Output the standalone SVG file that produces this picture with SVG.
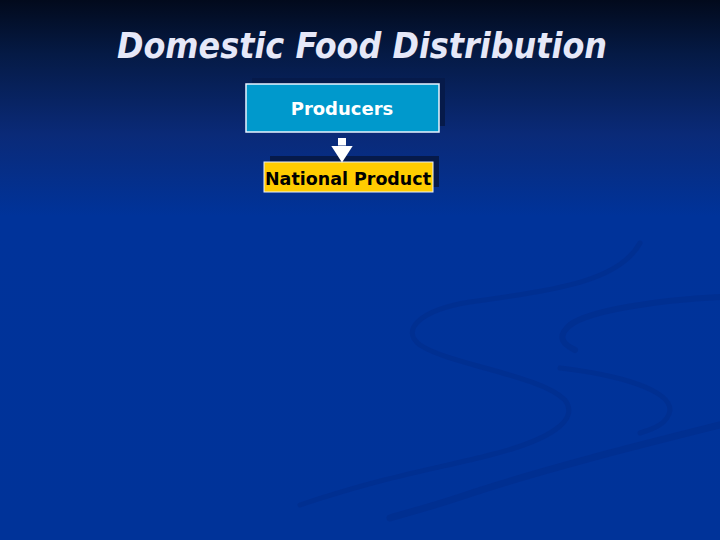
<svg xmlns="http://www.w3.org/2000/svg" width="720" height="540" viewBox="0 0 720 540">
  <defs>
    <linearGradient id="bg" x1="0" y1="0" x2="0" y2="1">
      <stop offset="0" stop-color="#020a1c"/>
      <stop offset="0.1" stop-color="#051a45"/>
      <stop offset="0.25" stop-color="#0a2a78"/>
      <stop offset="0.4" stop-color="#00339a"/>
      <stop offset="1" stop-color="#003399"/>
    </linearGradient>
    <marker id="ah" viewBox="0 0 17 22" refX="0" refY="11" markerWidth="17" markerHeight="22" markerUnits="userSpaceOnUse" orient="auto">
      <path d="M0,0 L17,11 L0,22 Z" fill="#ffffff"/>
    </marker>
    <style>
      .swoosh { fill: none; stroke: #002a88; stroke-linecap: round; opacity: 0.45; }
      .shadow { fill: #061a4a; }
      .lbl { font-family: "DejaVu Sans", Tahoma, Verdana, sans-serif; font-weight: bold; font-size: 18px; text-anchor: middle; }
    </style>
  </defs>

  <rect x="0" y="0" width="720" height="540" fill="url(#bg)"/>

  <!-- decorative swooshes -->
  <g id="decor">
    <path class="swoosh" stroke-width="5" d="M640,243 C620,280 560,290 470,302 C420,310 400,330 420,345 C450,365 540,375 565,400 C580,420 550,440 490,455 C440,468 390,475 300,505"/>
    <path class="swoosh" stroke-width="6" d="M720,297 C660,300 590,310 570,325 C555,338 565,345 575,350"/>
    <path class="swoosh" stroke-width="5" d="M560,368 C620,375 670,390 670,410 C668,425 650,430 640,433"/>
    <path class="swoosh" stroke-width="7" d="M720,425 C640,445 540,470 460,497 C430,507 410,512 390,518"/>
  </g>

  <!-- title -->
  <text id="title" x="362" y="58" font-family="'DejaVu Sans', Verdana, sans-serif" font-weight="bold" font-style="italic" font-size="35" fill="#e6e8f8" text-anchor="middle" textLength="490" lengthAdjust="spacingAndGlyphs">Domestic Food Distribution</text>

  <g id="producers">
    <rect class="shadow" x="252" y="78" width="193" height="48"/>
    <rect x="246" y="84" width="193" height="48" fill="#0099cc" stroke="#e8f4ff" stroke-width="1.5"/>
    <text class="lbl" x="342" y="115" fill="#ffffff">Producers</text>
  </g>

  <g id="national-product">
    <rect class="shadow" x="270" y="156" width="169" height="31"/>
    <rect x="264" y="162" width="169" height="30" fill="#ffcc00" stroke="#e8f0ff" stroke-width="1"/>
    <text class="lbl" x="348" y="185" fill="#000000" textLength="166" lengthAdjust="spacingAndGlyphs">National Product</text>
  </g>

  <g id="connectors">
    <line x1="342" y1="138" x2="342" y2="145.5" stroke="#ffffff" stroke-width="8" marker-end="url(#ah)"/>
  </g>
</svg>
